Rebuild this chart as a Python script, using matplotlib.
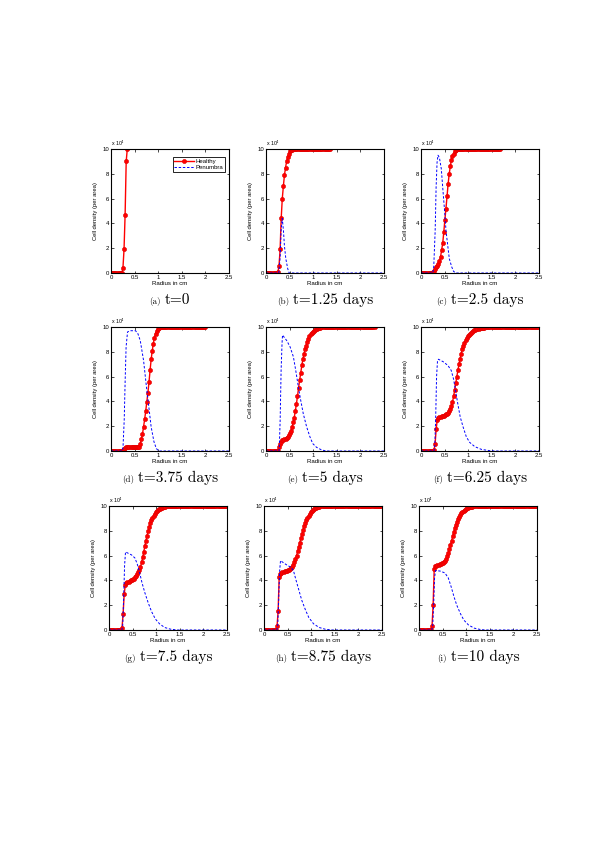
"""
Healthy / penumbra cell density profiles at nine times (3x3 panel figure).
"""

import numpy as np
import matplotlib
matplotlib.use("Agg")
import matplotlib.pyplot as plt
from matplotlib.offsetbox import TextArea, HPacker, AnnotationBbox

# ------------------------------------------------------------------
# data (cell density in units of 1e4, radius in cm)
# ------------------------------------------------------------------

DR = 0.023  # spacing of the healthy-cell grid

healthy_a = [0] * 11 + [0.4, 1.9, 4.7, 9.0, 10.0]
healthy_b = [0] * 11 + [0.1, 0.6, 1.9, 4.4, 6.0, 7.0, 7.9, 8.5, 9.0, 9.35, 9.6,
                        9.8, 9.9, 9.95] + [10] * 35
healthy_c = [0] * 11 + [0.05, 0.2, 0.35, 0.5, 0.6, 0.75, 0.95, 1.3, 1.85, 2.4,
                        3.3, 4.3, 5.2, 6.2, 7.2, 8.0, 8.6, 9.1, 9.4, 9.6, 9.8,
                        9.9, 9.97] + [10] * 40
healthy_d = [0] * 11 + [0.05, 0.2, 0.28] + [0.3] * 12 + [
    0.35, 0.6, 0.94, 1.37, 1.96, 2.55, 3.24, 3.97, 4.7, 5.55, 6.5, 7.4, 8.07,
    8.66, 9.15, 9.46, 9.68, 9.84, 9.93, 9.97] + [10] * 42
healthy_e = [0] * 12 + [
    0.35, 0.6, 0.75, 0.85, 0.9, 0.95, 1.0, 1.08, 1.15, 1.3, 1.45, 1.65, 1.9,
    2.3, 2.7, 3.2, 3.8, 4.4, 5.1, 5.7, 6.3, 6.9, 7.4, 7.85, 8.2, 8.5, 8.8,
    9.05, 9.25, 9.4, 9.52, 9.62, 9.7, 9.77, 9.82, 9.86, 9.9, 9.93, 9.95, 9.97,
    9.98] + [10] * 48
healthy_f = [0] * 12 + [
    0.1, 0.6, 1.8, 2.5, 2.7, 2.75, 2.77, 2.8, 2.82, 2.85, 2.9, 2.95, 3.0, 3.1,
    3.2, 3.35, 3.6, 3.95, 4.4, 4.9, 5.45, 6.0, 6.5, 7.0, 7.45, 7.85, 8.2, 8.5,
    8.75, 8.95, 9.1, 9.25, 9.35, 9.45, 9.53, 9.6, 9.66, 9.72, 9.76, 9.8, 9.83,
    9.86, 9.88, 9.9, 9.92, 9.94, 9.95, 9.96, 9.97, 9.98, 9.99] + [10] * 46
healthy_g = [0] * 12 + [
    0.2, 1.3, 2.9, 3.6, 3.8, 3.85, 3.9, 3.95, 4.0, 4.05, 4.1, 4.15, 4.25, 4.35,
    4.5, 4.65, 4.85, 5.1, 5.45, 5.85, 6.3, 6.75, 7.2, 7.6, 7.95, 8.3, 8.6,
    8.85, 9.05, 9.22, 9.36, 9.48, 9.58, 9.66, 9.73, 9.78, 9.83, 9.87, 9.9,
    9.92, 9.94, 9.96, 9.97, 9.98, 9.99] + [10] * 52
healthy_h = [0] * 12 + [
    0.3, 1.5, 4.3, 4.55, 4.6, 4.65, 4.7, 4.72, 4.75, 4.78, 4.8, 4.85, 4.9,
    4.98, 5.1, 5.25, 5.45, 5.7, 6.0, 6.35, 6.7, 7.05, 7.4, 7.75, 8.05, 8.35,
    8.6, 8.85, 9.05, 9.22, 9.37, 9.5, 9.6, 9.68, 9.75, 9.8, 9.85, 9.89, 9.92,
    9.94, 9.96, 9.97, 9.98, 9.99] + [10] * 53
healthy_i = [0] * 12 + [
    0.3, 2.0, 4.9, 5.15, 5.2, 5.25, 5.28, 5.3, 5.33, 5.37, 5.42, 5.5, 5.6,
    5.75, 5.95, 6.2, 6.5, 6.85, 7.2, 7.55, 7.9, 8.2, 8.5, 8.75, 8.97, 9.15,
    9.3, 9.43, 9.54, 9.63, 9.7, 9.76, 9.81, 9.85, 9.88, 9.91, 9.93, 9.95,
    9.96, 9.97, 9.98, 9.99] + [10] * 55

pen_r_a = [0, 2.5]
pen_a = [0, 0]
pen_r_b = [0, 0.27, 0.30, 0.32, 0.345, 0.37, 0.39, 0.42, 0.46, 0.49, 2.5]
pen_b = [0, 0, 1.3, 3.4, 4.4, 3.4, 2.2, 1.15, 0.35, 0, 0]
pen_r_c = [0, 0.25, 0.27, 0.30, 0.32, 0.34, 0.36, 0.39, 0.43, 0.46, 0.50,
           0.53, 0.57, 0.60, 0.65, 0.69, 0.74, 2.5]
pen_c = [0, 0, 0.5, 3.4, 6.9, 8.9, 9.5, 9.3, 8.4, 6.9, 5.0, 3.4, 2.1, 1.15,
         0.5, 0.13, 0, 0]
pen_r_d = [0, 0.24, 0.255, 0.28, 0.30, 0.32, 0.35, 0.41, 0.52, 0.57, 0.62,
           0.69, 0.75, 0.80, 0.85, 0.91, 0.96, 1.01, 2.5]
pen_d = [0, 0, 0.35, 2.5, 5.7, 8.4, 9.6, 9.7, 9.7, 9.46, 8.9, 7.3, 5.2, 3.6,
         1.96, 0.75, 0.2, 0, 0]
pen_r_e = [0, 0.27, 0.28, 0.30, 0.32, 0.34, 0.35, 0.44, 0.51, 0.58, 0.63,
           0.68, 0.73, 0.79, 0.86, 0.93, 0.99, 1.07, 1.18, 1.28, 2.5]
pen_e = [0, 0, 0.1, 2.5, 6.5, 8.7, 9.35, 8.9, 8.4, 7.6, 6.5, 5.3, 4.2, 3.0,
         1.96, 1.15, 0.6, 0.3, 0.08, 0, 0]
pen_r_f = [0, 0.27, 0.29, 0.31, 0.33, 0.35, 0.37, 0.47, 0.57, 0.64, 0.69,
           0.73, 0.78, 0.83, 0.89, 0.96, 1.03, 1.14, 1.28, 1.45, 1.56, 2.5]
pen_f = [0, 0, 0.2, 2.5, 6.0, 7.3, 7.4, 7.2, 6.9, 6.5, 5.8, 4.9, 3.8, 2.76,
         1.96, 1.15, 0.7, 0.35, 0.13, 0.03, 0, 0]
pen_r_g = [0, 0.27, 0.29, 0.31, 0.33, 0.35, 0.40, 0.48, 0.55, 0.60, 0.65,
           0.70, 0.76, 0.83, 0.90, 0.98, 1.07, 1.18, 1.30, 1.45, 2.5]
pen_g = [0, 0, 0.3, 2.5, 5.2, 6.3, 6.2, 6.05, 5.8, 5.3, 4.6, 3.8, 3.0, 2.2,
         1.5, 0.9, 0.5, 0.2, 0.07, 0, 0]
pen_r_h = [0, 0.27, 0.29, 0.31, 0.33, 0.35, 0.42, 0.50, 0.58, 0.63, 0.68,
           0.74, 0.80, 0.88, 0.95, 1.05, 1.17, 1.30, 1.45, 2.5]
pen_h = [0, 0, 0.3, 2.3, 4.7, 5.6, 5.4, 5.2, 5.05, 4.7, 4.0, 3.2, 2.4, 1.6,
         1.0, 0.5, 0.2, 0.06, 0, 0]
pen_r_i = [0, 0.27, 0.29, 0.31, 0.33, 0.35, 0.45, 0.55, 0.62, 0.68, 0.74,
           0.80, 0.88, 0.95, 1.05, 1.17, 1.30, 1.40, 2.5]
pen_i = [0, 0, 0.3, 2.0, 4.2, 4.8, 4.75, 4.6, 4.2, 3.5, 2.7, 2.0, 1.3, 0.8,
         0.4, 0.15, 0.04, 0, 0]

panel_tags = ["(a)", "(b)", "(c)", "(d)", "(e)", "(f)", "(g)", "(h)", "(i)"]
panel_times = ["t=0", "t=1.25 days", "t=2.5 days", "t=3.75 days", "t=5 days",
               "t=6.25 days", "t=7.5 days", "t=8.75 days", "t=10 days"]
healthy = [healthy_a, healthy_b, healthy_c, healthy_d, healthy_e,
           healthy_f, healthy_g, healthy_h, healthy_i]
pen_r = [pen_r_a, pen_r_b, pen_r_c, pen_r_d, pen_r_e, pen_r_f, pen_r_g,
         pen_r_h, pen_r_i]
pen = [pen_a, pen_b, pen_c, pen_d, pen_e, pen_f, pen_g, pen_h, pen_i]

x_ticks = [0, 0.5, 1, 1.5, 2, 2.5]
x_tick_labels = ["0", "0.5", "1", "1.5", "2", "2.5"]
y_ticks = [0, 2, 4, 6, 8, 10]

# ------------------------------------------------------------------
# layout (pixels in a 600x849 canvas)
# ------------------------------------------------------------------

W, H = 600, 849
COL_LEFT = [111, 266, 421]
ROW_BOTTOM = [273, 451, 630]
AX_W, AX_H = 118, 124
CAPTION_GAP = 27

SANS = "Liberation Sans"
SERIF = "cmr10"

fig = plt.figure(figsize=(W / 100, H / 100), dpi=100)
fig.patch.set_facecolor("white")

for k in range(9):
    row, col = divmod(k, 3)
    left = COL_LEFT[col] - (2 if row == 2 else 0)
    bottom = ROW_BOTTOM[row]
    ax = fig.add_axes([left / W, 1 - bottom / H, AX_W / W, AX_H / H])

    h = np.asarray(healthy[k], dtype=float)
    r = DR * np.arange(len(h))
    ax.plot(r, h, "-", color="#ff0000", lw=1.0, marker="o", ms=3.0,
            mfc="#ff0000", mec="#e00000", mew=0.4, label="Healthy")
    ax.plot(pen_r[k], pen[k], "--", color="#0000ff", lw=0.7,
            dashes=(2.5, 1.8), label="Penumbra")

    ax.set_xlim(0, 2.5)
    ax.set_ylim(0, 10)
    ax.set_xticks(x_ticks)
    ax.set_xticklabels(x_tick_labels)
    ax.set_yticks(y_ticks)
    ax.tick_params(direction="in", length=1.8, width=0.5, labelsize=4.3,
                   pad=1.5, top=True, right=True, colors="black")
    for lab in ax.get_xticklabels() + ax.get_yticklabels():
        lab.set_family(SANS)
    for sp in ax.spines.values():
        sp.set_linewidth(0.8)
    ax.set_xlabel("Radius in cm", fontsize=4.4, family=SANS, labelpad=1)
    ax.set_ylabel("Cell density (per area)", fontsize=4.2, family=SANS,
                  labelpad=3)
    ax.text(0.0, 1.005, r"x 10$^4$", transform=ax.transAxes, fontsize=3.8,
            family=SANS, ha="left", va="bottom")

    if k == 0:
        leg = ax.legend(loc="upper right", bbox_to_anchor=(0.97, 0.935),
                        borderaxespad=0, frameon=True,
                        fancybox=False, edgecolor="black", framealpha=1,
                        handlelength=3.2, borderpad=0.3, labelspacing=0.2,
                        handletextpad=0.4, prop={"family": SANS, "size": 4.3})
        leg.get_frame().set_linewidth(0.6)

    # caption: small tag + larger time label, centred under the panel
    box = HPacker(children=[
        TextArea(panel_tags[k], textprops=dict(family=SERIF, size=6.5)),
        TextArea(panel_times[k], textprops=dict(family=SERIF, size=11)),
    ], align="baseline", pad=0, sep=3)
    cy = 1 - (bottom + CAPTION_GAP) / H
    ab = AnnotationBbox(box, (0.5, cy),
                        xycoords=("axes fraction", "figure fraction"),
                        frameon=False, box_alignment=(0.5, 0.5))
    ax.add_artist(ab)

fig.savefig("out.png", dpi=100, facecolor="white")
